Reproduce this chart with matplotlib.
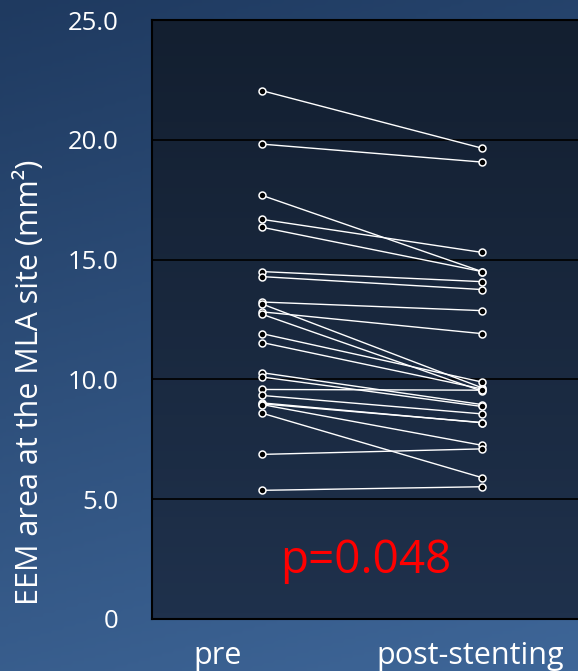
import numpy as np
import matplotlib.pyplot as plt
from matplotlib.colors import LinearSegmentedColormap

plt.rcParams['font.family'] = ['Open Sans', 'DejaVu Sans']

# EEM area (mm2) per lesion, pre and post-stenting (paired)
groups = ['pre', 'post-stenting']
pre = [22.05, 19.82, 17.68, 16.68, 16.35, 14.50, 14.29, 13.23, 13.15, 12.82, 12.72, 11.91,
       11.54, 10.28, 10.10, 9.58, 9.33, 9.02, 8.98, 8.95, 8.59, 6.87, 5.37]
post = [19.65, 19.07, 14.50, 15.30, 14.50, 14.08, 13.75, 12.87, 9.65, 11.91, 9.51, 9.89,
        9.60, 8.95, 8.87, 9.55, 8.56, 8.19, 8.20, 7.25, 5.90, 7.10, 5.52]
yticks = [0, 5, 10, 15, 20, 25]
ytick_labels = ['0', '5.0', '10.0', '15.0', '20.0', '25.0']
p_text = 'p=0.048'

W, H = 578, 671
fig = plt.figure(figsize=(W / 100, H / 100), dpi=100)

# slide background gradient
bg = fig.add_axes([0, 0, 1, 1], zorder=-10)
gx, gy = np.meshgrid(np.linspace(0, 1, 200), np.linspace(0, 1, 200))
t = np.clip(0.8 * gy + 0.2 * (1 - gx), 0, 1)
bg_cmap = LinearSegmentedColormap.from_list('bg', ['#3e6698', '#1f3a60'])
bg.imshow(t, cmap=bg_cmap, extent=[0, 1, 0, 1], aspect='auto', origin='lower')
bg.axis('off')

ax = fig.add_axes([152 / W, 52 / H, 440 / W, 599 / H])
ax.set_xlim(-0.5, 1.5)
ax.set_ylim(0, 25)
ax.set_facecolor('none')

# plot area gradient
pa_cmap = LinearSegmentedColormap.from_list('pa', ['#1f314c', '#131f30'])
ax.imshow(np.linspace(0, 1, 100).reshape(-1, 1), cmap=pa_cmap, extent=[-0.5, 1.5, 0, 25],
          aspect='auto', origin='lower', zorder=0)

for a, b in zip(pre, post):
    ax.plot([0, 1], [a, b], color='white', lw=1, zorder=3,
            marker='o', ms=5, mfc='black', mec='white', mew=1.1)

ax.set_yticks(yticks)
ax.set_yticklabels(ytick_labels)
ax.yaxis.grid(True, color='black', lw=1.2)
ax.set_axisbelow(True)
ax.tick_params(axis='y', length=0, pad=24, labelsize=18.5, labelcolor='white')
ax.set_xticks([-0.2, 0.945])
ax.set_xticklabels(groups)
ax.tick_params(axis='x', length=0, pad=16, labelsize=22, labelcolor='white')

for s in ax.spines.values():
    s.set_color('black')
    s.set_linewidth(1.5)

ax.text(0.47, 1.9, p_text, color='#ff0000', fontsize=33, ha='center', va='baseline', zorder=4)

fig.text(30 / W, 1 - 382 / H, 'EEM area at the MLA site (mm²)', rotation=90,
         ha='center', va='center', color='white', fontsize=22)

fig.savefig('out.png', dpi=100)
